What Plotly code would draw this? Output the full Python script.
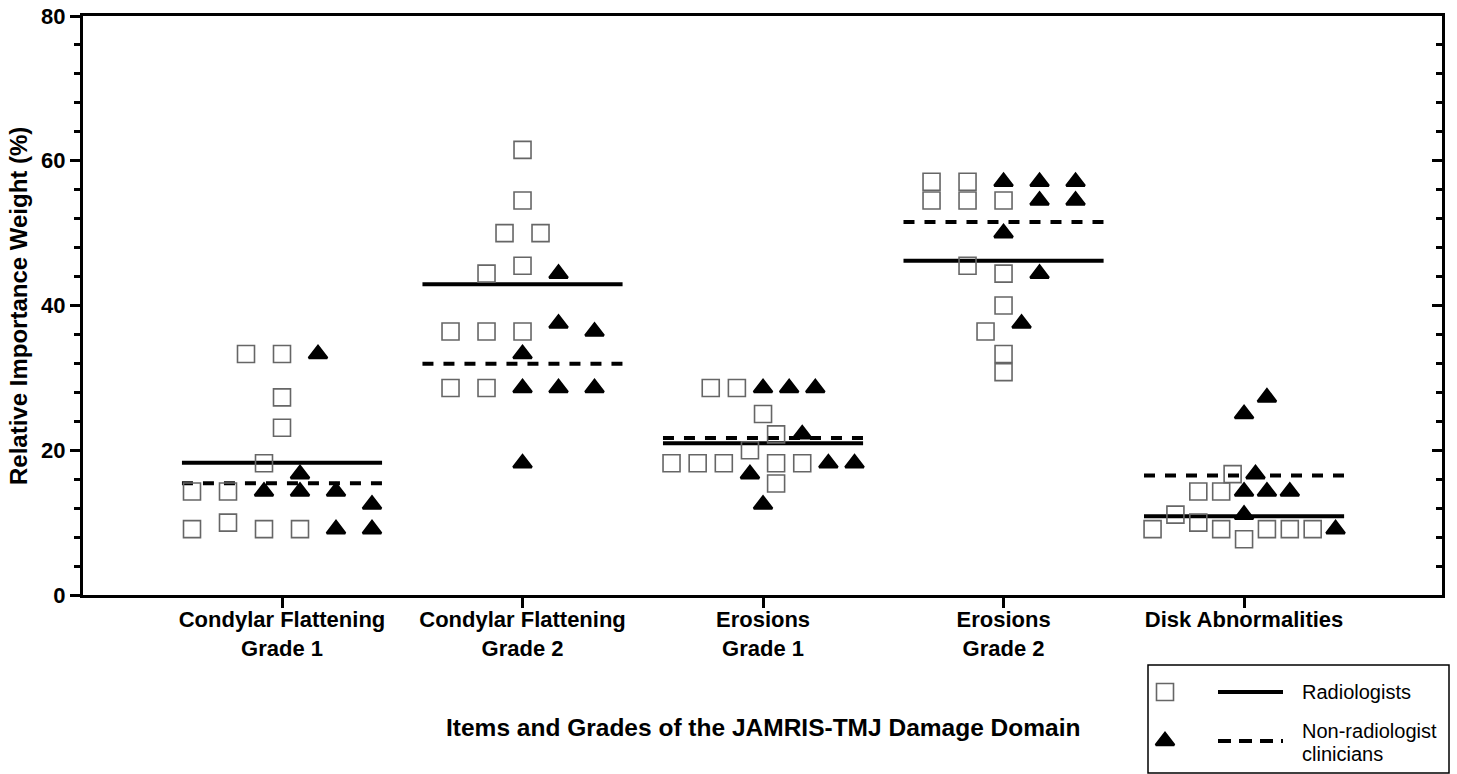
import numpy as np
import plotly.graph_objects as go

# ---------------- data ----------------
categories = ["Condylar Flattening<br>Grade 1", "Condylar Flattening<br>Grade 2",
              "Erosions<br>Grade 1", "Erosions<br>Grade 2", "Disk Abnormalities"]

radiologists_cf1 = [33.3, 33.3, 27.3, 23.1, 18.2, 14.3, 14.3, 9.1, 10.0, 9.1, 9.1]
radiologists_cf2 = [61.5, 54.5, 50.0, 50.0, 44.4, 45.5, 36.4, 36.4, 36.4, 28.6, 28.6]
radiologists_er1 = [28.6, 28.6, 25.0, 22.2, 18.2, 18.2, 18.2, 20.0, 18.2, 18.2, 15.4]
radiologists_er2 = [57.1, 57.1, 54.5, 54.5, 54.5, 45.5, 44.4, 40.0, 36.4, 33.3, 30.8]
radiologists_disk = [16.7, 14.3, 14.3, 9.1, 11.1, 10.0, 9.1, 7.7, 9.1, 9.1, 9.1]

clinicians_cf1 = [33.3, 16.7, 14.3, 14.3, 14.3, 12.5, 9.1, 9.1]
clinicians_cf2 = [44.4, 37.5, 36.4, 33.3, 28.6, 28.6, 28.6, 18.2]
clinicians_er1 = [28.6, 28.6, 28.6, 22.2, 18.2, 18.2, 16.7, 12.5]
clinicians_er2 = [57.1, 57.1, 57.1, 54.5, 54.5, 50.0, 44.4, 37.5]
clinicians_disk = [27.3, 25.0, 16.7, 14.3, 14.3, 14.3, 11.1, 9.1]

y_ticks = [0, 20, 40, 60, 80]
series_names = ["Radiologists", "Non-radiologist clinicians"]

radiologists = [radiologists_cf1, radiologists_cf2, radiologists_er1, radiologists_er2, radiologists_disk]
clinicians = [clinicians_cf1, clinicians_cf2, clinicians_er1, clinicians_er2, clinicians_disk]

# ---------------- layout geometry ----------------
W, H = 1457, 774
PL, PR, PT, PB = 83, 1442, 16, 595
X_RANGE = [-0.8274, 4.823]
Y_RANGE = [0, 80]
px_x = (PR - PL) / (X_RANGE[1] - X_RANGE[0])
px_y = (PB - PT) / (Y_RANGE[1] - Y_RANGE[0])

HIT = 17.0        # marker collision size (px)
ROW_SPAN = 183.0  # max width of a row of points (px)
BASE_STEP = 36.0  # default spacing (px)
TOL = 2.05        # grouping tolerance (value units)
MEAN_HALF = 0.416 # half width of mean line (category units)


def swarm(values):
    """Scatter-dot arrangement (rows of similar values, centred) -> x offsets in px."""
    n = len(values)
    ys = [v * px_y for v in values]
    sv = sorted(values)
    maxc, j = 1, 0
    for i in range(n):
        while sv[i] - sv[j] >= HIT / px_y:
            j += 1
        maxc = max(maxc, i - j + 1)
    step = BASE_STEP if maxc < 2 else min(BASE_STEP, ROW_SPAN / (maxc - 1))

    unassigned = set(range(n))
    rows = []
    while unassigned:
        counts = {}
        for i in unassigned:
            k = round(values[i], 3)
            counts[k] = counts.get(k, 0) + 1
        anchor = sorted(counts.items(), key=lambda kv: (-kv[1], kv[0]))[0][0]
        mem = sorted(i for i in unassigned if abs(values[i] - anchor) <= TOL)
        while len(mem) > maxc:
            others = [i for i in mem if abs(values[i] - anchor) > 1e-6]
            mem.remove(others[-1] if others else mem[-1])
        rows.append(mem)
        unassigned -= set(mem)
    rows.sort(key=lambda r: (-len(r), min(values[i] for i in r)))

    primary_odd = (maxc % 2 == 1)
    cands = []
    for k in range(-16, 17):
        x = k * step / 2
        integer_slot = (k % 2 == 0)
        inside = abs(x) <= ROW_SPAN / 2 + 1
        prim = 0 if (integer_slot == primary_odd) else 1
        cands.append((0 if inside else 1, prim if inside else 0, abs(x), x < 0, x))
    cands.sort()
    cand_x = [c[-1] for c in cands]

    placed = []
    offs = [0.0] * n

    def free(x, y):
        return all(abs(x - qx) >= HIT or abs(y - qy) >= HIT for qx, qy in placed)

    for r in rows:
        m = len(r)
        block = [(k - (m - 1) / 2) * step for k in range(m)]
        if all(free(x, ys[i]) for x, i in zip(block, r)):
            for x, i in zip(block, r):
                offs[i] = x
                placed.append((x, ys[i]))
        else:
            for i in r:
                xx = cand_x[-1]
                for x in cand_x:
                    if free(x, ys[i]):
                        xx = x
                        break
                offs[i] = xx
                placed.append((xx, ys[i]))
    return offs


rad_x, rad_y, cli_x, cli_y = [], [], [], []
rad_mx, rad_my, cli_mx, cli_my = [], [], [], []
for ci, (rv, cv) in enumerate(zip(radiologists, clinicians)):
    combined = list(rv) + list(cv)
    offs = swarm(combined)
    for k, v in enumerate(combined):
        xv = ci + offs[k] / px_x
        if k < len(rv):
            rad_x.append(xv); rad_y.append(v)
        else:
            cli_x.append(xv); cli_y.append(v)
    mr, mc = float(np.mean(rv)), float(np.mean(cv))
    rad_mx += [ci - MEAN_HALF, ci + MEAN_HALF, None]
    rad_my += [mr, mr, None]
    cli_mx += [ci - MEAN_HALF, ci + MEAN_HALF, None]
    cli_my += [mc, mc, None]

SQ = dict(symbol="square-open", size=17, color="#666666", line=dict(width=1.6, color="#666666"))
TRI = dict(symbol="triangle-up", size=16, color="black", line=dict(width=2.5, color="black"))

fig = go.Figure()
fig.add_trace(go.Scatter(x=rad_mx, y=rad_my, mode="lines", line=dict(color="black", width=4),
                         showlegend=False, hoverinfo="skip"))
fig.add_trace(go.Scatter(x=cli_mx, y=cli_my, mode="lines",
                         line=dict(color="black", width=4, dash="11px,10px"),
                         showlegend=False, hoverinfo="skip"))
fig.add_trace(go.Scatter(x=rad_x, y=rad_y, mode="markers", marker=SQ, name=series_names[0],
                         showlegend=False))
fig.add_trace(go.Scatter(x=cli_x, y=cli_y, mode="markers", marker=TRI, name=series_names[1],
                         showlegend=False))

# ---------------- custom legend (own hidden axes in pixel units) ----------------
LX0, LX1, LY0, LY1 = 1148, 1449, 665, 773
fig.add_trace(go.Scatter(x=[1165], y=[692], mode="markers", marker=SQ, xaxis="x3", yaxis="y3",
                         showlegend=False, hoverinfo="skip"))
fig.add_trace(go.Scatter(x=[1218, 1283], y=[692, 692], mode="lines", line=dict(color="black", width=4),
                         xaxis="x3", yaxis="y3", showlegend=False, hoverinfo="skip"))
fig.add_trace(go.Scatter(x=[1165], y=[741], mode="markers", marker=TRI, xaxis="x3", yaxis="y3",
                         showlegend=False, hoverinfo="skip"))
fig.add_trace(go.Scatter(x=[1218, 1283], y=[741, 741], mode="lines",
                         line=dict(color="black", width=4, dash="13px,8px"),
                         xaxis="x3", yaxis="y3", showlegend=False, hoverinfo="skip"))
fig.add_trace(go.Scatter(x=[None], y=[None], yaxis="y2", xaxis="x", showlegend=False, hoverinfo="skip"))

FONT = "Liberation Sans, Arial, Helvetica, sans-serif"
BOLD = dict(family=FONT, color="black", weight="bold")

axis_common = dict(showgrid=False, zeroline=False, showline=True, linecolor="black", linewidth=3,
                   tickcolor="black", tickwidth=3, automargin=False)

fig.update_layout(
    template="none",
    width=W, height=H,
    margin=dict(l=0, r=0, t=0, b=0, pad=0),
    paper_bgcolor="white", plot_bgcolor="white",
    showlegend=False,
    font=dict(family=FONT, color="black"),
    xaxis=dict(domain=[PL / W, PR / W], range=X_RANGE, tickmode="array",
               tickvals=list(range(len(categories))), ticktext=categories,
               ticks="outside", ticklen=10, mirror=True, fixedrange=True, ticklabelstandoff=-7,
               tickfont=dict(size=22, **BOLD), **axis_common),
    yaxis=dict(domain=[1 - PB / H, 1 - PT / H], range=Y_RANGE, tickmode="array",
               tickvals=y_ticks, ticks="outside", ticklen=10, mirror=True, fixedrange=True,
               minor=dict(ticks="outside", dtick=4, ticklen=6, tickwidth=3, tickcolor="black"),
               tickfont=dict(size=22, **BOLD), **axis_common),
    yaxis2=dict(domain=[1 - PB / H, 1 - PT / H], range=Y_RANGE, overlaying="y", anchor="x",
                side="right", tickmode="array", tickvals=y_ticks, ticks="inside", ticklen=10,
                showticklabels=False, showline=False, automargin=False, fixedrange=True,
                minor=dict(ticks="inside", dtick=4, ticklen=6, tickwidth=3, tickcolor="black"),
                showgrid=False, zeroline=False, tickcolor="black", tickwidth=3),
    xaxis3=dict(domain=[LX0 / W, LX1 / W], range=[LX0, LX1], visible=False, anchor="y3",
                fixedrange=True, automargin=False),
    yaxis3=dict(domain=[1 - LY1 / H, 1 - LY0 / H], range=[LY1, LY0], visible=False, anchor="x3",
                fixedrange=True, automargin=False),
    shapes=[dict(type="rect", xref="paper", yref="paper", x0=LX0 / W, x1=LX1 / W,
                 y0=1 - LY1 / H, y1=1 - LY0 / H, line=dict(color="black", width=1.5))],
    annotations=[
        dict(text="Relative Importance Weight (%)", xref="paper", yref="paper",
             x=18 / W, y=1 - 306 / H, xanchor="center", yanchor="middle", textangle=-90,
             showarrow=False, font=dict(size=24, **BOLD)),
        dict(text="Items and Grades of the JAMRIS-TMJ Damage Domain", xref="paper", yref="paper",
             x=763 / W, y=1 - 727 / H, xanchor="center", yanchor="middle",
             showarrow=False, font=dict(size=24.5, **BOLD)),
        dict(text="Radiologists", xref="paper", yref="paper", x=1300 / W, y=1 - 692 / H,
             xanchor="left", yanchor="middle", showarrow=False,
             font=dict(family=FONT, size=20, color="black")),
        dict(text="Non-radiologist", xref="paper", yref="paper", x=1300 / W, y=1 - 731 / H,
             xanchor="left", yanchor="middle", showarrow=False,
             font=dict(family=FONT, size=20, color="black")),
        dict(text="clinicians", xref="paper", yref="paper", x=1300 / W, y=1 - 754 / H,
             xanchor="left", yanchor="middle", showarrow=False,
             font=dict(family=FONT, size=20, color="black")),
    ],
)

fig.write_html("out.html", config={"displayModeBar": False},
               post_script="document.body.style.margin='0px';document.body.style.overflow='hidden';")
